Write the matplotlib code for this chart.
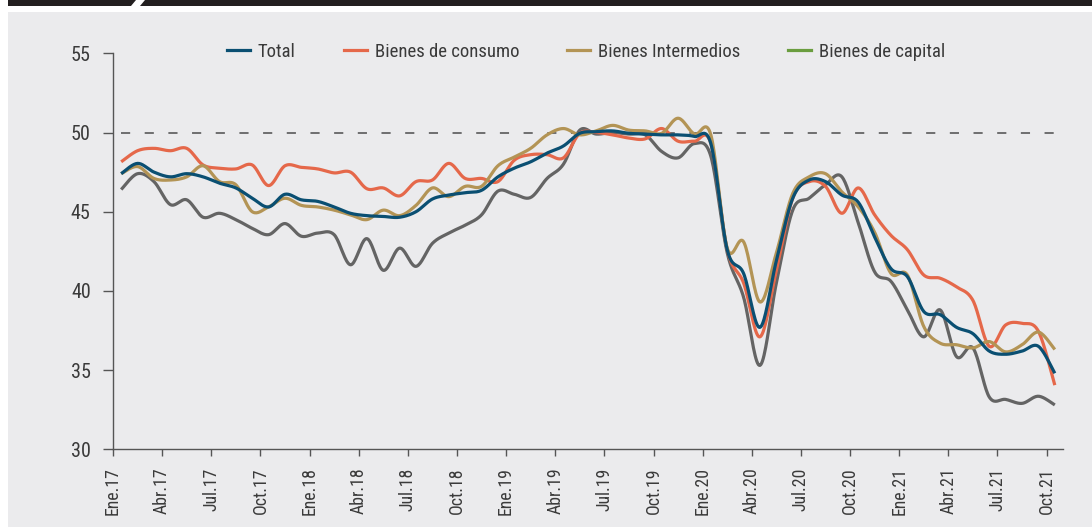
import numpy as np
import matplotlib
matplotlib.use("Agg")
import matplotlib.pyplot as plt
from matplotlib.lines import Line2D
from matplotlib.patches import Polygon, Rectangle
from matplotlib import font_manager

# ---------------- data ----------------
months = ["Ene", "Feb", "Mar", "Abr", "May", "Jun", "Jul", "Ago", "Sep", "Oct", "Nov", "Dic"]
periods = [f"{m}.{y}" for y in ("17", "18", "19", "20", "21") for m in months][:58]
tick_labels = ["Ene.17", "Abr.17", "Jul.17", "Oct.17", "Ene.18", "Abr.18", "Jul.18", "Oct.18",
               "Ene.19", "Abr.19", "Jul.19", "Oct.19", "Ene.20", "Abr.20", "Jul.20", "Oct.20",
               "Ene.21", "Abr.21", "Jul.21", "Oct.21"]

total = [47.4, 48.05, 47.5, 47.2, 47.4, 47.2, 46.8, 46.5, 45.85, 45.3,
         46.1, 45.75, 45.65, 45.3, 44.9, 44.75, 44.7, 44.65, 45.0, 45.8,
         46.05, 46.2, 46.35, 47.2, 47.75, 48.15, 48.7, 49.15, 49.95, 50.05,
         50.1, 49.95, 49.9, 49.85, 49.85, 49.75, 49.3, 42.6, 41.1, 37.7,
         41.9, 45.85, 47.0, 46.9, 46.05, 45.6, 43.4, 41.4, 40.9, 38.7,
         38.5, 37.7, 37.3, 36.2, 36.0, 36.2, 36.5, 34.8]
consumo = [48.15, 48.85, 49.0, 48.85, 49.0, 47.95, 47.75, 47.7, 47.95, 46.65,
           47.9, 47.8, 47.7, 47.45, 47.5, 46.45, 46.5, 46.0, 46.9, 47.0,
           48.05, 47.1, 47.1, 46.9, 48.25, 48.6, 48.6, 48.4, 49.95, 50.0,
           49.85, 49.65, 49.6, 50.25, 49.45, 49.45, 49.3, 42.6, 40.5, 37.1,
           41.3, 45.85, 46.9, 46.6, 44.9, 46.5, 44.8, 43.5, 42.6, 41.0,
           40.8, 40.25, 39.4, 36.5, 37.85, 37.95, 37.45, 34.05]
intermedios = [47.4, 47.85, 47.1, 47.0, 47.2, 47.9, 46.9, 46.7, 45.0, 45.3,
               45.85, 45.4, 45.3, 45.1, 44.8, 44.5, 45.1, 44.75, 45.4, 46.5,
               45.95, 46.6, 46.6, 47.9, 48.45, 49.0, 49.85, 50.25, 49.85, 50.1,
               50.45, 50.15, 50.1, 49.95, 50.9, 49.9, 49.85, 42.7, 43.1, 39.3,
               42.4, 46.15, 47.2, 47.4, 46.25, 45.3, 43.7, 41.1, 41.0, 37.75,
               36.7, 36.6, 36.4, 36.8, 36.15, 36.6, 37.4, 36.3]
capital = [46.4, 47.4, 46.9, 45.45, 45.75, 44.65, 44.9, 44.5, 43.95, 43.55,
           44.25, 43.45, 43.65, 43.55, 41.65, 43.3, 41.3, 42.7, 41.55, 43.0,
           43.65, 44.15, 44.8, 46.3, 46.1, 45.9, 47.1, 48.0, 50.15, 49.9,
           50.0, 49.9, 49.85, 48.8, 48.4, 49.3, 48.5, 42.4, 39.6, 35.3,
           40.5, 45.1, 45.85, 46.7, 47.2, 44.3, 41.2, 40.6, 38.8, 37.1,
           38.8, 35.85, 36.4, 33.3, 33.15, 32.9, 33.35, 32.8]
umbral = [50.0] * len(periods)

series_names = ["Total", "Bienes de consumo", "Bienes Intermedios", "Bienes de capital"]
line_colors = ["#0A4F72", "#E5684A", "#B39455", "#646464"]
legend_colors = ["#0A4F72", "#E5684A", "#B39455", "#6A9D3F"]

# ---------------- fonts ----------------
names = {f.name for f in font_manager.fontManager.ttflist}
cond = None
for cand in ["Roboto Condensed", "Liberation Sans Narrow", "Open Sans Condensed",
             "DejaVu Sans Condensed", "Noto Sans Condensed"]:
    if cand in names:
        cond = cand
        break
if cond is None:
    cond = "Liberation Sans"
plt.rcParams['font.family'] = [cond, 'DejaVu Sans']
TXT = "#3A3A3A"


def smooth(x, y, n=20):
    pts = np.column_stack([x, y]).astype(float)
    out = []
    m = len(pts)
    for i in range(m - 1):
        p0 = pts[i - 1] if i > 0 else pts[i]
        p1 = pts[i]
        p2 = pts[i + 1]
        p3 = pts[i + 2] if i + 2 < m else pts[i + 1]
        b1 = p1 + (p2 - p0) / 6.0
        b2 = p2 - (p3 - p1) / 6.0
        t = np.linspace(0, 1, n, endpoint=(i == m - 2))[:, None]
        seg = ((1 - t) ** 3) * p1 + 3 * ((1 - t) ** 2) * t * b1 + 3 * (1 - t) * t ** 2 * b2 + t ** 3 * p2
        out.append(seg)
    out = np.vstack(out)
    return out[:, 0], out[:, 1]


W, H = 1092, 527
fig = plt.figure(figsize=(W / 100, H / 100), dpi=100)
fig.patch.set_facecolor("white")


def fy(p):
    return 1 - p / H


# background panel and header bar
fig.patches.append(Rectangle((8 / W, 0), 1 - 8 / W, 1 - 12 / H, transform=fig.transFigure,
                             facecolor="#EBEBED", edgecolor="none", zorder=-10))
fig.patches.append(Polygon([(8 / W, fy(0)), (136 / W, fy(0)), (131 / W, fy(6)), (8 / W, fy(6))],
                           closed=True, transform=fig.transFigure, facecolor="#231F20",
                           edgecolor="none", zorder=-10))
fig.patches.append(Polygon([(145 / W, fy(0)), (1, fy(0)), (1, fy(6)), (140 / W, fy(6))],
                           closed=True, transform=fig.transFigure, facecolor="#231F20",
                           edgecolor="none", zorder=-10))

ax = fig.add_axes([113 / W, 1 - 449.3 / H, (1063 - 113) / W, (449.3 - 53.3) / H])
ax.set_facecolor("none")
ax.set_zorder(5)

x = np.arange(len(periods)) + 0.5
ax.plot(x, umbral, color="#4D4D4D", lw=1.1, linestyle=(0, (6, 9.5)), zorder=1)

data = [total, consumo, intermedios, capital]
for k, z in zip([3, 1, 2, 0], [2, 3, 4, 5]):
    sx, sy = smooth(x, data[k])
    ax.plot(sx, sy, color=line_colors[k], lw=2.3, solid_capstyle="butt", zorder=z)

ax.set_xlim(0, len(periods))
ax.set_ylim(30, 55)
ax.set_yticks([30, 35, 40, 45, 50, 55])
ax.set_xticks(np.arange(0, len(periods), 3))
ax.set_xticklabels(tick_labels, rotation=90)

for s in ["top", "right"]:
    ax.spines[s].set_visible(False)
for s in ["left", "bottom"]:
    ax.spines[s].set_color("#555555")
    ax.spines[s].set_linewidth(1.0)
ax.tick_params(axis="y", direction="out", length=7, width=1.0, color="#555555",
               labelsize=14.5, labelcolor=TXT, pad=9)
ax.tick_params(axis="x", direction="out", length=5, width=1.0, color="#555555",
               labelsize=12.8, labelcolor=TXT, pad=8)

handles = [Line2D([0], [0], color=c, lw=2.3) for c in legend_colors]
leg = fig.legend(handles, series_names, loc="center", bbox_to_anchor=(586 / W, fy(52)),
                 ncol=4, frameon=False, fontsize=13.5, handlelength=1.25, handletextpad=0.4,
                 columnspacing=2.55, labelcolor=TXT)

fig.savefig("out.png", dpi=100, facecolor=fig.get_facecolor())
